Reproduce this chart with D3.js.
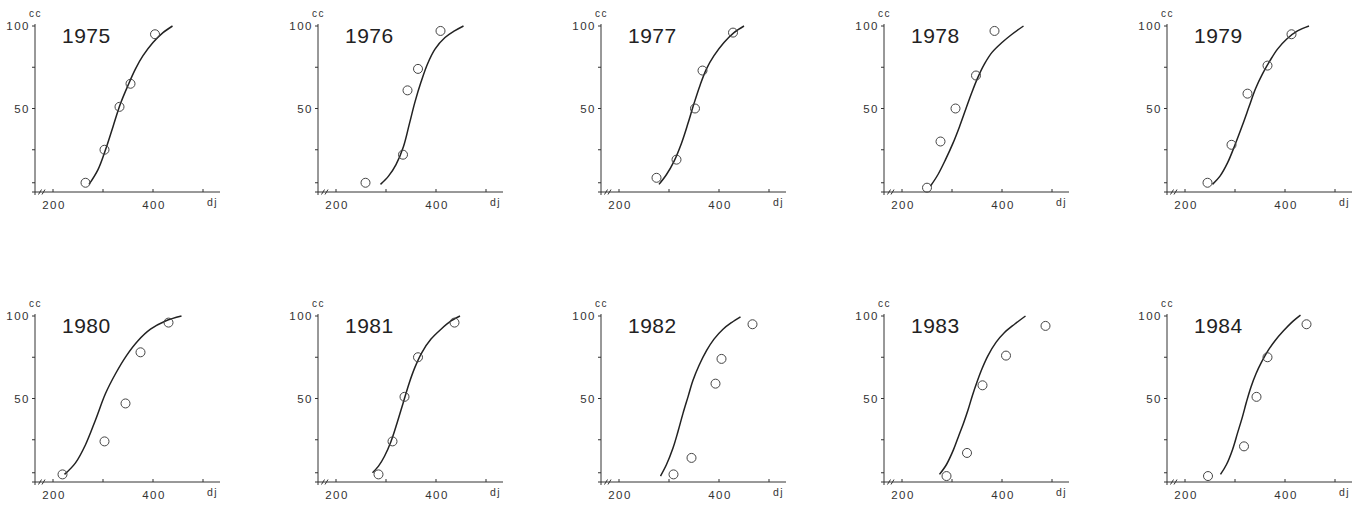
<!DOCTYPE html>
<html>
<head>
<meta charset="utf-8">
<script src="https://cdn.jsdelivr.net/npm/d3@7"></script>
<style>
	body{margin:0;background:#fff;}
	svg text{font-family:"Liberation Sans",Arial,sans-serif;fill:#333;}
</style>
</head>
<body>
<div id="viz"></div>
<script>
var years = ["1975","1976","1977","1978","1979","1980","1981","1982","1983","1984"];

var obsDj = [
	[265,303,333,355,404],
	[259,334,343,364,409],
	[275,315,352,367,428],
	[250,277,307,348,385],
	[245,293,325,365,413],
	[219,303,345,375,431],
	[285,313,337,364,437],
	[309,345,393,405,467],
	[289,330,361,408,487],
	[246,318,343,365,443]
];
var obsCc = [
	[5,25,51,65,95],
	[5,22,61,74,97],
	[8,19,50,73,96],
	[2,30,50,70,97],
	[5,28,59,76,95],
	[4,24,47,78,96],
	[4,24,51,75,96],
	[4,14,59,74,95],
	[3,17,58,76,94],
	[3,21,51,75,95]
];

var fitDj = [
	[272,290,305,320,335,350,365,380,400,420,439],
	[289,305,320,335,347,358,370,383,398,418,437,455],
	[280,295,310,325,338,350,362,375,390,410,430,450],
	[257,272,287,302,315,328,340,352,365,380,400,420,443],
	[255,270,285,300,315,328,341,355,370,385,403,425,448],
	[223,245,265,285,305,325,347,370,395,425,457],
	[273,285,297,310,322,334,346,358,372,390,410,430,448],
	[283,295,308,318,328,338,348,360,375,390,408,425,443],
	[275,289,303,313,323,332,341,350,360,372,388,405,425,447],
	[271,283,295,305,315,323,332,342,353,366,380,397,413,431]
];
var fitCc = [
	[4,13,25,39,53,64,74,82,90,96,100],
	[4,9,16,27,41,54,66,77,86,93,97,100],
	[4,10,18,29,41,53,64,74,82,90,96,100],
	[3,10,19,29,39,50,60,69,77,84,90,95,100],
	[4,9,17,28,40,51,62,71,79,86,92,97,100],
	[4,11,22,37,53,65,76,85,92,97,100],
	[5,9,15,24,35,47,59,69,78,86,92,97,100],
	[3,10,20,30,41,51,61,70,79,86,92,96,99.5],
	[4,10,19,27,35,43,52,60,68,76,84,90,95,100],
	[4,10,19,29,39,48,57,65,72,79,85,91,96,100.5]
];

var yTicks = [5,25,50,75,100];
var yLabels = [50,100];
var xTicks = [200,300,400,500];
var xLabels = [200,400];

var Viz = (function(){
	var svg;
	var width = 1370, height = 508;
	var colStep = 283, rowStep = 290;
	var axisLeft = 35, axisTop = 26;
	var ink = "#333";

	var drawPanel = function(i){
		var col = i%5, row = Math.floor(i/5);
		var ox = axisLeft + col*colStep;
		var oy = axisTop + row*rowStep;
		var g = svg.append("g").attr("transform","translate("+ox+","+oy+")");

		var x = d3.scaleLinear().domain([200,400]).range([18,118]);
		var y = d3.scaleLinear().domain([0,100]).range([165,0]);
		var base = y(0)+1;

		// y axis
		g.append("line")
			.attr("x1",0).attr("x2",0)
			.attr("y1",-2).attr("y2",base+3)
			.style("stroke",ink).style("stroke-width",1);
		g.selectAll(".ytick")
			.data(yTicks)
			.enter()
			.append("line")
			.attr("x1",-3).attr("x2",0)
			.attr("y1",function(d){return y(d);})
			.attr("y2",function(d){return y(d);})
			.style("stroke",ink).style("stroke-width",1);
		g.selectAll(".ylab")
			.data(yLabels)
			.enter()
			.append("text")
			.attr("x",-5)
			.attr("y",function(d){return y(d)+4;})
			.attr("text-anchor","end")
			.style("font-size","11.5px")
			.style("letter-spacing","1.5px")
			.text(function(d){return d;});
		g.append("text")
			.attr("x",-6).attr("y",-9)
			.style("font-size","10px")
			.style("letter-spacing","1.5px")
			.text("cc");

		// x axis with break
		g.append("line")
			.attr("x1",-3).attr("x2",185)
			.attr("y1",base).attr("y2",base)
			.style("stroke",ink).style("stroke-width",1);
		[5,8.5].forEach(function(bx){
			g.append("line")
				.attr("x1",bx-1.5).attr("x2",bx+1.5)
				.attr("y1",base+2.5).attr("y2",base-2.5)
				.style("stroke",ink).style("stroke-width",1);
		});
		g.selectAll(".xtick")
			.data(xTicks)
			.enter()
			.append("line")
			.attr("x1",function(d){return x(d);})
			.attr("x2",function(d){return x(d);})
			.attr("y1",base-3).attr("y2",base)
			.style("stroke",ink).style("stroke-width",1);
		g.selectAll(".xlab")
			.data(xLabels)
			.enter()
			.append("text")
			.attr("x",function(d){return x(d)+1;})
			.attr("y",base+17)
			.attr("text-anchor","middle")
			.style("font-size","11.5px")
			.style("letter-spacing","1.5px")
			.text(function(d){return d;});
		g.append("text")
			.attr("x",172).attr("y",base+14)
			.style("font-size","10.5px")
			.style("letter-spacing","1.5px")
			.text("dj");

		// year
		g.append("text")
			.attr("x",27).attr("y",17)
			.style("font-size","21px")
			.style("letter-spacing","0.5px")
			.style("fill","#222")
			.text(years[i]);

		// fitted curve
		var pts = fitDj[i].map(function(d,k){return [d,fitCc[i][k]];});
		var line = d3.line()
			.x(function(d){return x(d[0]);})
			.y(function(d){return y(d[1]);})
			.curve(d3.curveCatmullRom.alpha(0.5));
		g.append("path")
			.attr("d",line(pts))
			.style("fill","none")
			.style("stroke","#222")
			.style("stroke-width",1.5);

		// observations
		g.selectAll(".obs")
			.data(obsDj[i])
			.enter()
			.append("circle")
			.attr("cx",function(d){return x(d);})
			.attr("cy",function(d,k){return y(obsCc[i][k]);})
			.attr("r",4.5)
			.style("fill","none")
			.style("stroke","#444")
			.style("stroke-width",1);
	}

	var draw = function(){
		svg = d3.select("#viz").append("svg")
			.attr("width",width)
			.attr("height",height);
		for(var i=0;i<years.length;i++){
			drawPanel(i);
		}
	}

	return {draw:draw}
})();

Viz.draw();
</script>
</body>
</html>
